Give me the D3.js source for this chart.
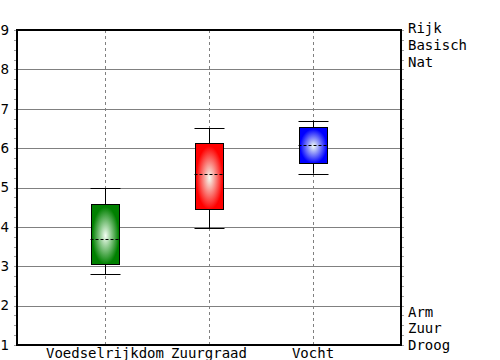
<!DOCTYPE html>
<html><head><meta charset="utf-8">
<script src="https://cdn.jsdelivr.net/npm/d3@7"></script>
<style>body{margin:0;background:#fff}svg{display:block}</style>
</head><body>
<svg id="c" width="500" height="360"></svg>
<script>
const categories = ["Voedselrijkdom", "Zuurgraad", "Vocht"];
const whiskerLow  = [2.8, 3.97, 5.35];
const boxLow      = [3.05, 4.45, 5.62];
const medians     = [3.69, 5.34, 6.08];
const boxHigh     = [4.58, 6.12, 6.53];
const whiskerHigh = [4.98, 6.5, 6.7];
const colors      = ["#008000", "#ff0000", "#0000ff"];
const yTicks      = [1, 2, 3, 4, 5, 6, 7, 8, 9];
const rightTop    = ["Rijk", "Basisch", "Nat"];
const rightBottom = ["Arm", "Zuur", "Droog"];

const svg = d3.select("#c");
const L = 17, R = 401, T = 30, B = 345;
const x = d3.scalePoint().domain(categories).range([L, R]).padding(0.846);
const y = d3.scaleLinear().domain([1, 9]).range([B, T]);
const minor = d3.range(1, 9.001, 0.25);

// gradients
const defs = svg.append("defs");
categories.forEach((c, i) => {
  const g = defs.append("radialGradient").attr("id", "g" + i)
    .attr("cx", "50%").attr("cy", "52%").attr("r", "60%");
  g.append("stop").attr("offset", "0%").attr("stop-color", "#f4fff4");
  g.append("stop").attr("offset", "80%").attr("stop-color", colors[i]);
  g.append("stop").attr("offset", "100%").attr("stop-color", colors[i]);
});

// horizontal grid
svg.append("g").selectAll("line").data(yTicks).join("line")
  .attr("x1", L).attr("x2", R + 3)
  .attr("y1", d => Math.round(y(d)) + 0.5).attr("y2", d => Math.round(y(d)) + 0.5)
  .attr("stroke", "#808080").attr("stroke-width", 1);

// vertical dashed grid
svg.append("g").selectAll("line").data(categories).join("line")
  .attr("x1", d => Math.round(x(d)) + 0.5).attr("x2", d => Math.round(x(d)) + 0.5)
  .attr("y1", T).attr("y2", B)
  .attr("stroke", "#808080").attr("stroke-dasharray", "3,3");

// minor ticks left & right
svg.append("g").selectAll("line").data(minor).join("line")
  .attr("x1", L - 3).attr("x2", L)
  .attr("y1", d => Math.round(y(d)) + 0.5).attr("y2", d => Math.round(y(d)) + 0.5)
  .attr("stroke", "#a0a0a0");
svg.append("g").selectAll("line").data(minor).join("line")
  .attr("x1", R).attr("x2", R + 3)
  .attr("y1", d => Math.round(y(d)) + 0.5).attr("y2", d => Math.round(y(d)) + 0.5)
  .attr("stroke", "#a0a0a0");

// boxes
const idx = categories.map((c, i) => i);
const hb = 14, hc = 15;
const gB = svg.append("g");
idx.forEach(i => {
  const cx = Math.round(x(categories[i])) + 0.5;
  gB.append("line").attr("x1", cx).attr("x2", cx)
    .attr("y1", y(whiskerHigh[i])).attr("y2", y(boxHigh[i])).attr("stroke", "#000");
  gB.append("line").attr("x1", cx).attr("x2", cx)
    .attr("y1", y(boxLow[i])).attr("y2", y(whiskerLow[i])).attr("stroke", "#000");
  [whiskerHigh[i], whiskerLow[i]].forEach(v => {
    gB.append("line").attr("x1", cx - hc).attr("x2", cx + hc)
      .attr("y1", Math.round(y(v)) + 0.5).attr("y2", Math.round(y(v)) + 0.5).attr("stroke", "#000");
  });
  gB.append("rect").attr("x", cx - hb).attr("width", 2 * hb)
    .attr("y", Math.round(y(boxHigh[i])) + 0.5)
    .attr("height", Math.round(y(boxLow[i])) - Math.round(y(boxHigh[i])))
    .attr("fill", "url(#g" + i + ")").attr("stroke", "#000");
  gB.append("line").attr("x1", cx - hc).attr("x2", cx + hc)
    .attr("y1", Math.round(y(medians[i])) + 0.5).attr("y2", Math.round(y(medians[i])) + 0.5)
    .attr("stroke", "#000").attr("stroke-dasharray", "3,2");
});

// frame
svg.append("rect").attr("x", L).attr("y", T).attr("width", R - L).attr("height", B - T)
  .attr("fill", "none").attr("stroke", "#000").attr("stroke-width", 2);

// left tick labels
svg.append("g").selectAll("text").data(yTicks).join("text")
  .attr("x", 9).attr("y", d => y(d)).attr("dy", "0.36em")
  .attr("text-anchor", "end")
  .attr("font-family", "DejaVu Sans").attr("font-size", 13.5).attr("fill", "#000")
  .text(d => d);

// category labels
svg.append("g").selectAll("text").data(categories).join("text")
  .attr("x", d => x(d)).attr("y", 358)
  .attr("text-anchor", "middle")
  .attr("font-family", "DejaVu Sans Mono").attr("font-size", 14).attr("fill", "#000")
  .text(d => d);

// right labels
svg.append("g").selectAll("text").data(rightTop).join("text")
  .attr("x", 408).attr("y", (d, i) => y(9) + 3 + i * 16.8)
  .attr("font-family", "DejaVu Sans Mono").attr("font-size", 14).attr("fill", "#000")
  .text(d => d);
svg.append("g").selectAll("text").data(rightBottom).join("text")
  .attr("x", 408).attr("y", (d, i) => y(1) - 28.5 + i * 16.8)
  .attr("font-family", "DejaVu Sans Mono").attr("font-size", 14).attr("fill", "#000")
  .text(d => d);
</script>
</body></html>
